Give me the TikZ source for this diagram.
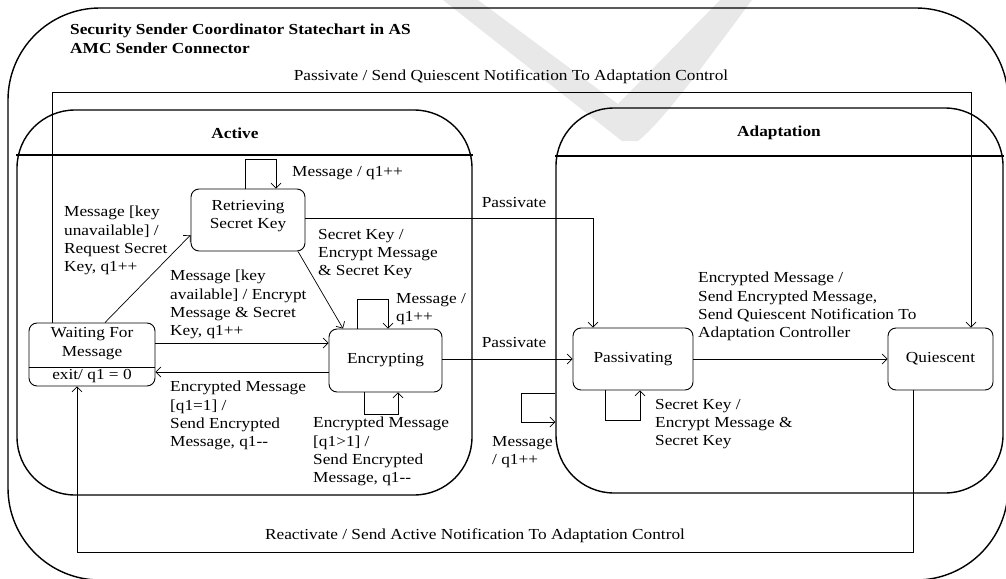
\documentclass[tikz,border=0pt]{standalone}
\usepackage{fontspec}
\setmainfont{Liberation Serif}[FakeStretch=1.13]
\usetikzlibrary{arrows.meta}
\tikzset{
  txt/.style={font=\fontsize{15.3pt}{18.3pt}\selectfont},
  statebox/.style={draw, line width=0.9pt, rounded corners=8pt, align=center, inner sep=0pt, txt},
  comp/.style={draw, line width=1.4pt, rounded corners=58pt, inner sep=0pt},
  tr/.style={line width=0.7pt, -{Straight Barb[length=5pt,width=10pt]}},
  lbl/.style={align=left, anchor=north west, inner sep=0pt, txt},
  clbl/.style={anchor=center, inner sep=0pt, txt},
  boldlbl/.style={font=\fontsize{15.3pt}{18.3pt}\selectfont\bfseries},
}
\begin{document}
\begin{tikzpicture}[x=1pt, y=-1pt]
\useasboundingbox (0,0) rectangle (1006,578);
% faint watermark
\fill[gray!18] (443,0) -- (478,0) -- (618,104) -- (720,0) -- (752,0) .. controls (700,70) and (662,122) .. (638,141) -- (622,141) -- cycle;
% outer state
\draw[line width=1.4pt, rounded corners=92pt] (8,8) rectangle (1008,580);
\node[lbl, boldlbl] (title) at (70,24) {Security Sender Coordinator Statechart in AS\\AMC Sender Connector};
% composite states
\node[comp, minimum width=455pt, minimum height=385pt] (active) at (244.5,302.5) {};
\node[comp, minimum width=447pt, minimum height=385pt] (adapt) at (779.5,300.5) {};
\draw[line width=1.4pt] (active.west |- 0,155) -- (active.east |- 0,155);
\draw[line width=1.4pt] (adapt.west |- 0,156) -- (adapt.east |- 0,156);
\node[clbl, boldlbl] (activelbl) at (235,133) {Active};
\node[clbl, boldlbl] (adaptlbl) at (779,133) {Adaptation};
% simple states
\node[statebox, minimum width=126pt, minimum height=63pt] (wait) at (92,354.5) {};
\draw[line width=0.9pt] (wait.west |- 0,367) -- (wait.east |- 0,367);
\node[clbl, align=center] (waittxt) at (92,343.5) {Waiting For\\Message};
\node[clbl] (exittxt) at (92,376.5) {exit/ q1 = 0};
\node[statebox, minimum width=114pt, minimum height=62pt] (retr) at (248,220) {};
\node[clbl, align=center] (retrtxt) at (248,216) {Retrieving\\Secret Key};
\node[statebox, minimum width=113pt, minimum height=63pt] (encr) at (385.5,360.5) {Encrypting};
\node[statebox, minimum width=120pt, minimum height=62pt] (pass) at (633,359) {Passivating};
\node[statebox, minimum width=105pt, minimum height=62pt] (quies) at (940.5,359) {Quiescent};
% helper coordinates
\coordinate (c1) at (52,92);
\coordinate (c2) at (971,92);
\coordinate (c3) at (913,552);
\coordinate (c4) at (77,552);
\coordinate (c5) at (593,218);
% transitions
\draw[tr] (wait.north -| c1) -- (c1) -- (c2) -- (quies.north -| c2);
\draw[tr] (quies.south -| c3) -- (c3) -- (c4) -- (wait.south -| c4);
\draw[tr] (retr.east |- c5) -- (c5) -- (pass.north -| c5);
\draw[tr] (encr.east |- pass.west) -- (pass.west);
\draw[tr] (pass.east) -- (quies.west);
\draw[tr] ([xshift=13pt]wait.north) -- ([yshift=-15pt]retr.west);
\draw[tr] ([xshift=50pt]retr.south) -- ([xshift=-42.5pt]encr.north);
\draw[tr] ([yshift=11.5pt]wait.east) -- ([yshift=11.5pt]wait.east -| encr.west);
\draw[tr] ([yshift=-17.5pt]wait.east -| encr.west) -- ([yshift=-17.5pt]wait.east);
% self transitions
\draw[tr] ([xshift=-3pt]retr.north) -- ++(0,29pt) -| ([xshift=28pt]retr.north);
\draw[tr] ([xshift=-28.5pt]encr.north) -- ++(0,29pt) -| ([xshift=2.5pt]encr.north);
\draw[tr] ([xshift=-21.5pt]encr.south) -- ++(0,-22pt) -| ([xshift=12.5pt]encr.south);
\draw[tr] ([xshift=-28pt]pass.south) -- ++(0,-30pt) -| ([xshift=7pt]pass.south);
\draw[tr] ([yshift=-92.5pt]adapt.west) -- ++(-34pt,0) |- ([yshift=-121.5pt]adapt.west);
% labels
\node[clbl] (ltop) at (511,77) {Passivate / Send Quiescent Notification To Adaptation Control};
\node[clbl] (lbot) at (475,536) {Reactivate / Send Active Notification To Adaptation Control};
\node[lbl] (l1) at (64,206) {Message [key\\unavailable] /\\Request Secret\\Key, q1++};
\node[lbl] (l2) at (170,270) {Message [key\\available] / Encrypt\\Message \& Secret\\Key, q1++};
\node[lbl] (l3) at (318,229) {Secret Key /\\Encrypt Message\\\& Secret Key};
\node[lbl] (l4) at (396,293) {Message /\\q1++};
\node[lbl] (l5) at (170,381) {Encrypted Message\\{}[q1=1] /\\Send Encrypted\\Message, q1-{}-};
\node[lbl] (l6) at (313,417) {Encrypted Message\\{}[q1>1] /\\Send Encrypted\\Message, q1-{}-};
\node[lbl] (l7) at (492,436) {Message\\/ q1++};
\node[lbl] (l8) at (698,272) {Encrypted Message /\\Send Encrypted Message,\\Send Quiescent Notification To\\Adaptation Controller};
\node[lbl] (l9) at (655,399) {Secret Key /\\Encrypt Message \&\\Secret Key};
\node[lbl] (l10) at (292,166) {Message / q1++};
\node[clbl] (p1) at (514,203) {Passivate};
\node[clbl] (p2) at (514,343) {Passivate};
\end{tikzpicture}
\end{document}
